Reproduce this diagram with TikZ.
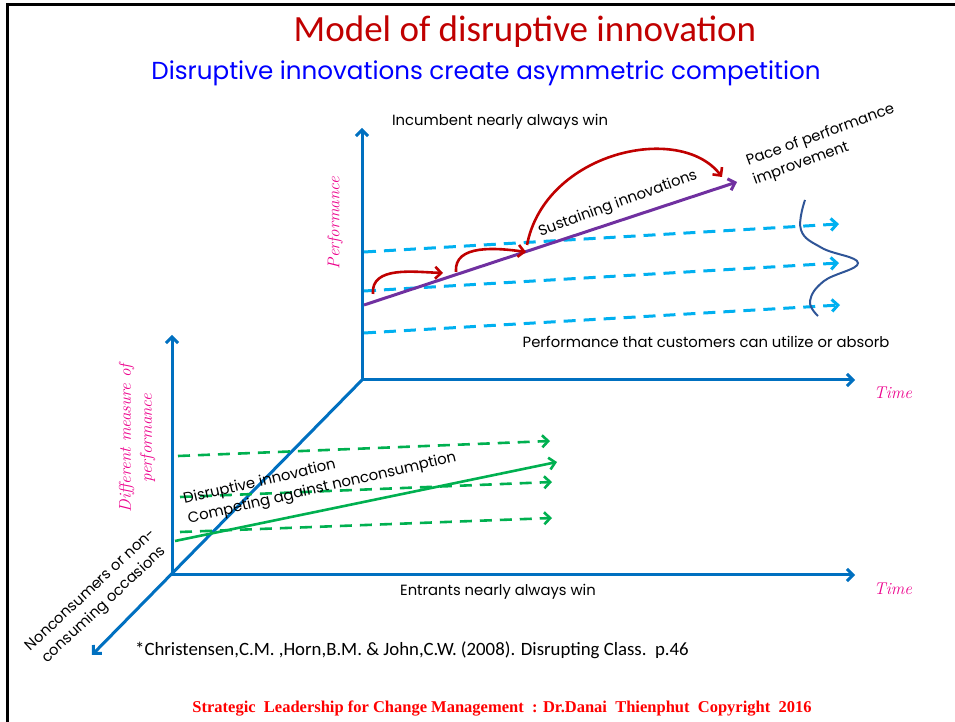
\documentclass[tikz,border=0pt]{standalone}
\usepackage{fontspec}
\usepackage{tikz}
\usetikzlibrary{arrows.meta}
\newfontfamily\headfont{Carlito}
\newfontfamily\handfont{Poppins}
\newfontfamily\footfont{Liberation Serif}
\definecolor{axisblue}{RGB}{0,112,192}
\definecolor{dashblue}{RGB}{0,176,240}
\definecolor{paceviolet}{RGB}{112,48,160}
\definecolor{jumpred}{RGB}{192,0,0}
\definecolor{entgreen}{RGB}{0,176,80}
\definecolor{spreadblue}{RGB}{47,85,151}

\begin{document}
\begin{tikzpicture}[x=1pt,y=1pt,>={Straight Barb[length=6pt,width=12pt]},
  axis/.style={axisblue,line width=3pt,->},
  absorb/.style={dashblue,line width=3pt,dash pattern=on 12pt off 8pt,->},
  cheap/.style={entgreen,line width=2.6pt,dash pattern=on 12pt off 8pt,->},
  jump/.style={jumpred,line width=2.6pt,->},
  say/.style={font=\handfont\fontsize{14.8}{20}\selectfont},
  hand/.style={magenta,font=\itshape\fontsize{17}{21}\selectfont}]
\useasboundingbox (0,0) rectangle (955,722);
\draw[line width=3pt] (7,0) -- (7,717) -- (955,717);

\node (title) at (525,690) {\headfont\fontsize{37}{42}\selectfont\color{jumpred}Model of disruptive innovation};
\node (subtitle) at (486,649) {\handfont\fontsize{24.6}{28}\selectfont\color{blue}Disruptive innovations create asymmetric competition};

\coordinate (upO) at (362,342);
\coordinate (upY) at (362,594);
\coordinate (upX) at (855,342);
\coordinate (loO) at (172,147);
\coordinate (loY) at (172,387);
\coordinate (loX) at (855,147);
\coordinate (depth) at (92,67);
\draw[axis] (upO) -- (upY);
\draw[axis] (upO) -- (upX);
\draw[axis] (loO) -- (loY);
\draw[axis] (loO) -- (loX);
\draw[axis] (upO) -- (depth);

\coordinate (a1) at (364,470); \coordinate (b1) at (839,498);
\coordinate (a2) at (364,431); \coordinate (b2) at (839,459);
\coordinate (a3) at (364,389); \coordinate (b3) at (840,417);
\draw[absorb] (a1) -- (b1);
\draw[absorb] (a2) -- (b2);
\draw[absorb] (a3) -- (b3);
\coordinate (paceS) at (364,417);
\coordinate (paceE) at (737,540);
\draw[paceviolet,line width=3pt,->] (paceS) -- (paceE);

\coordinate (j1) at (373,428); \coordinate (k1) at (443,449);
\coordinate (j2) at (456,450); \coordinate (k2) at (526,470);
\coordinate (j3) at (527,477); \coordinate (k3) at (722,545);
\draw[jump] (j1) to[out=95,in=178] (k1);
\draw[jump] (j2) to[out=95,in=172] (k2);
\draw[jump] (j3) .. controls (545,570) and (680,600) .. (k3);

\draw[spreadblue,line width=2pt] plot[smooth,tension=0.7] coordinates {(805,522) (801,492) (822,474) (858,459) (824,441) (810,421) (818,406)};

\coordinate (g1) at (178,266); \coordinate (h1) at (550,281);
\coordinate (g2) at (180,225); \coordinate (h2) at (552,240);
\coordinate (g3) at (180,190); \coordinate (h3) at (552,204);
\draw[cheap] (g1) -- (h1);
\draw[cheap] (g2) -- (h2);
\draw[cheap] (g3) -- (h3);
\coordinate (lowS) at (175,181);
\coordinate (lowE) at (557,260);
\draw[entgreen,line width=2.6pt,->] (lowS) -- (lowE);

\node[say] (incumbent) at (500,600) {Incumbent nearly always win};
\node[say,rotate=20] (sustain) at (618,518) {Sustaining innovations};
\node[say,rotate=20,align=left] (pace) at (824,577) {Pace of performance\\improvement};
\node[say] (absorbtext) at (706,380) {Performance that customers can utilize or absorb};
\node[say,rotate=13,align=left] (disrupt) at (320,243) {Disruptive innovation\\Competing against nonconsumption};
\node[say] (entrants) at (498,130) {Entrants nearly always win};
\node[say,rotate=43,align=center] (noncons) at (98,124) {Nonconsumers or non-\\consuming occasions};

\node[hand,rotate=90] (perflabel) at (335,499) {Performance};
\node[hand,rotate=90,align=center] (difflabel) at (137,284) {Different measure of\\performance};
\node[hand] (time1) at (893,329) {Time};
\node[hand] (time2) at (893,133) {Time};

\node (cite) at (412,72) {\headfont\fontsize{18.8}{22}\selectfont *Christensen,C.M. ,Horn,B.M. \& John,C.W. (2008). Disrupting Class.\ \ p.46};
\node (footer) at (502,13) {\footfont\bfseries\fontsize{16.5}{18}\selectfont\color{red}Strategic\ \ Leadership for Change Management\ \ : Dr.Danai\ \ Thienphut\ \ Copyright\ \ 2016};
\end{tikzpicture}
\end{document}
